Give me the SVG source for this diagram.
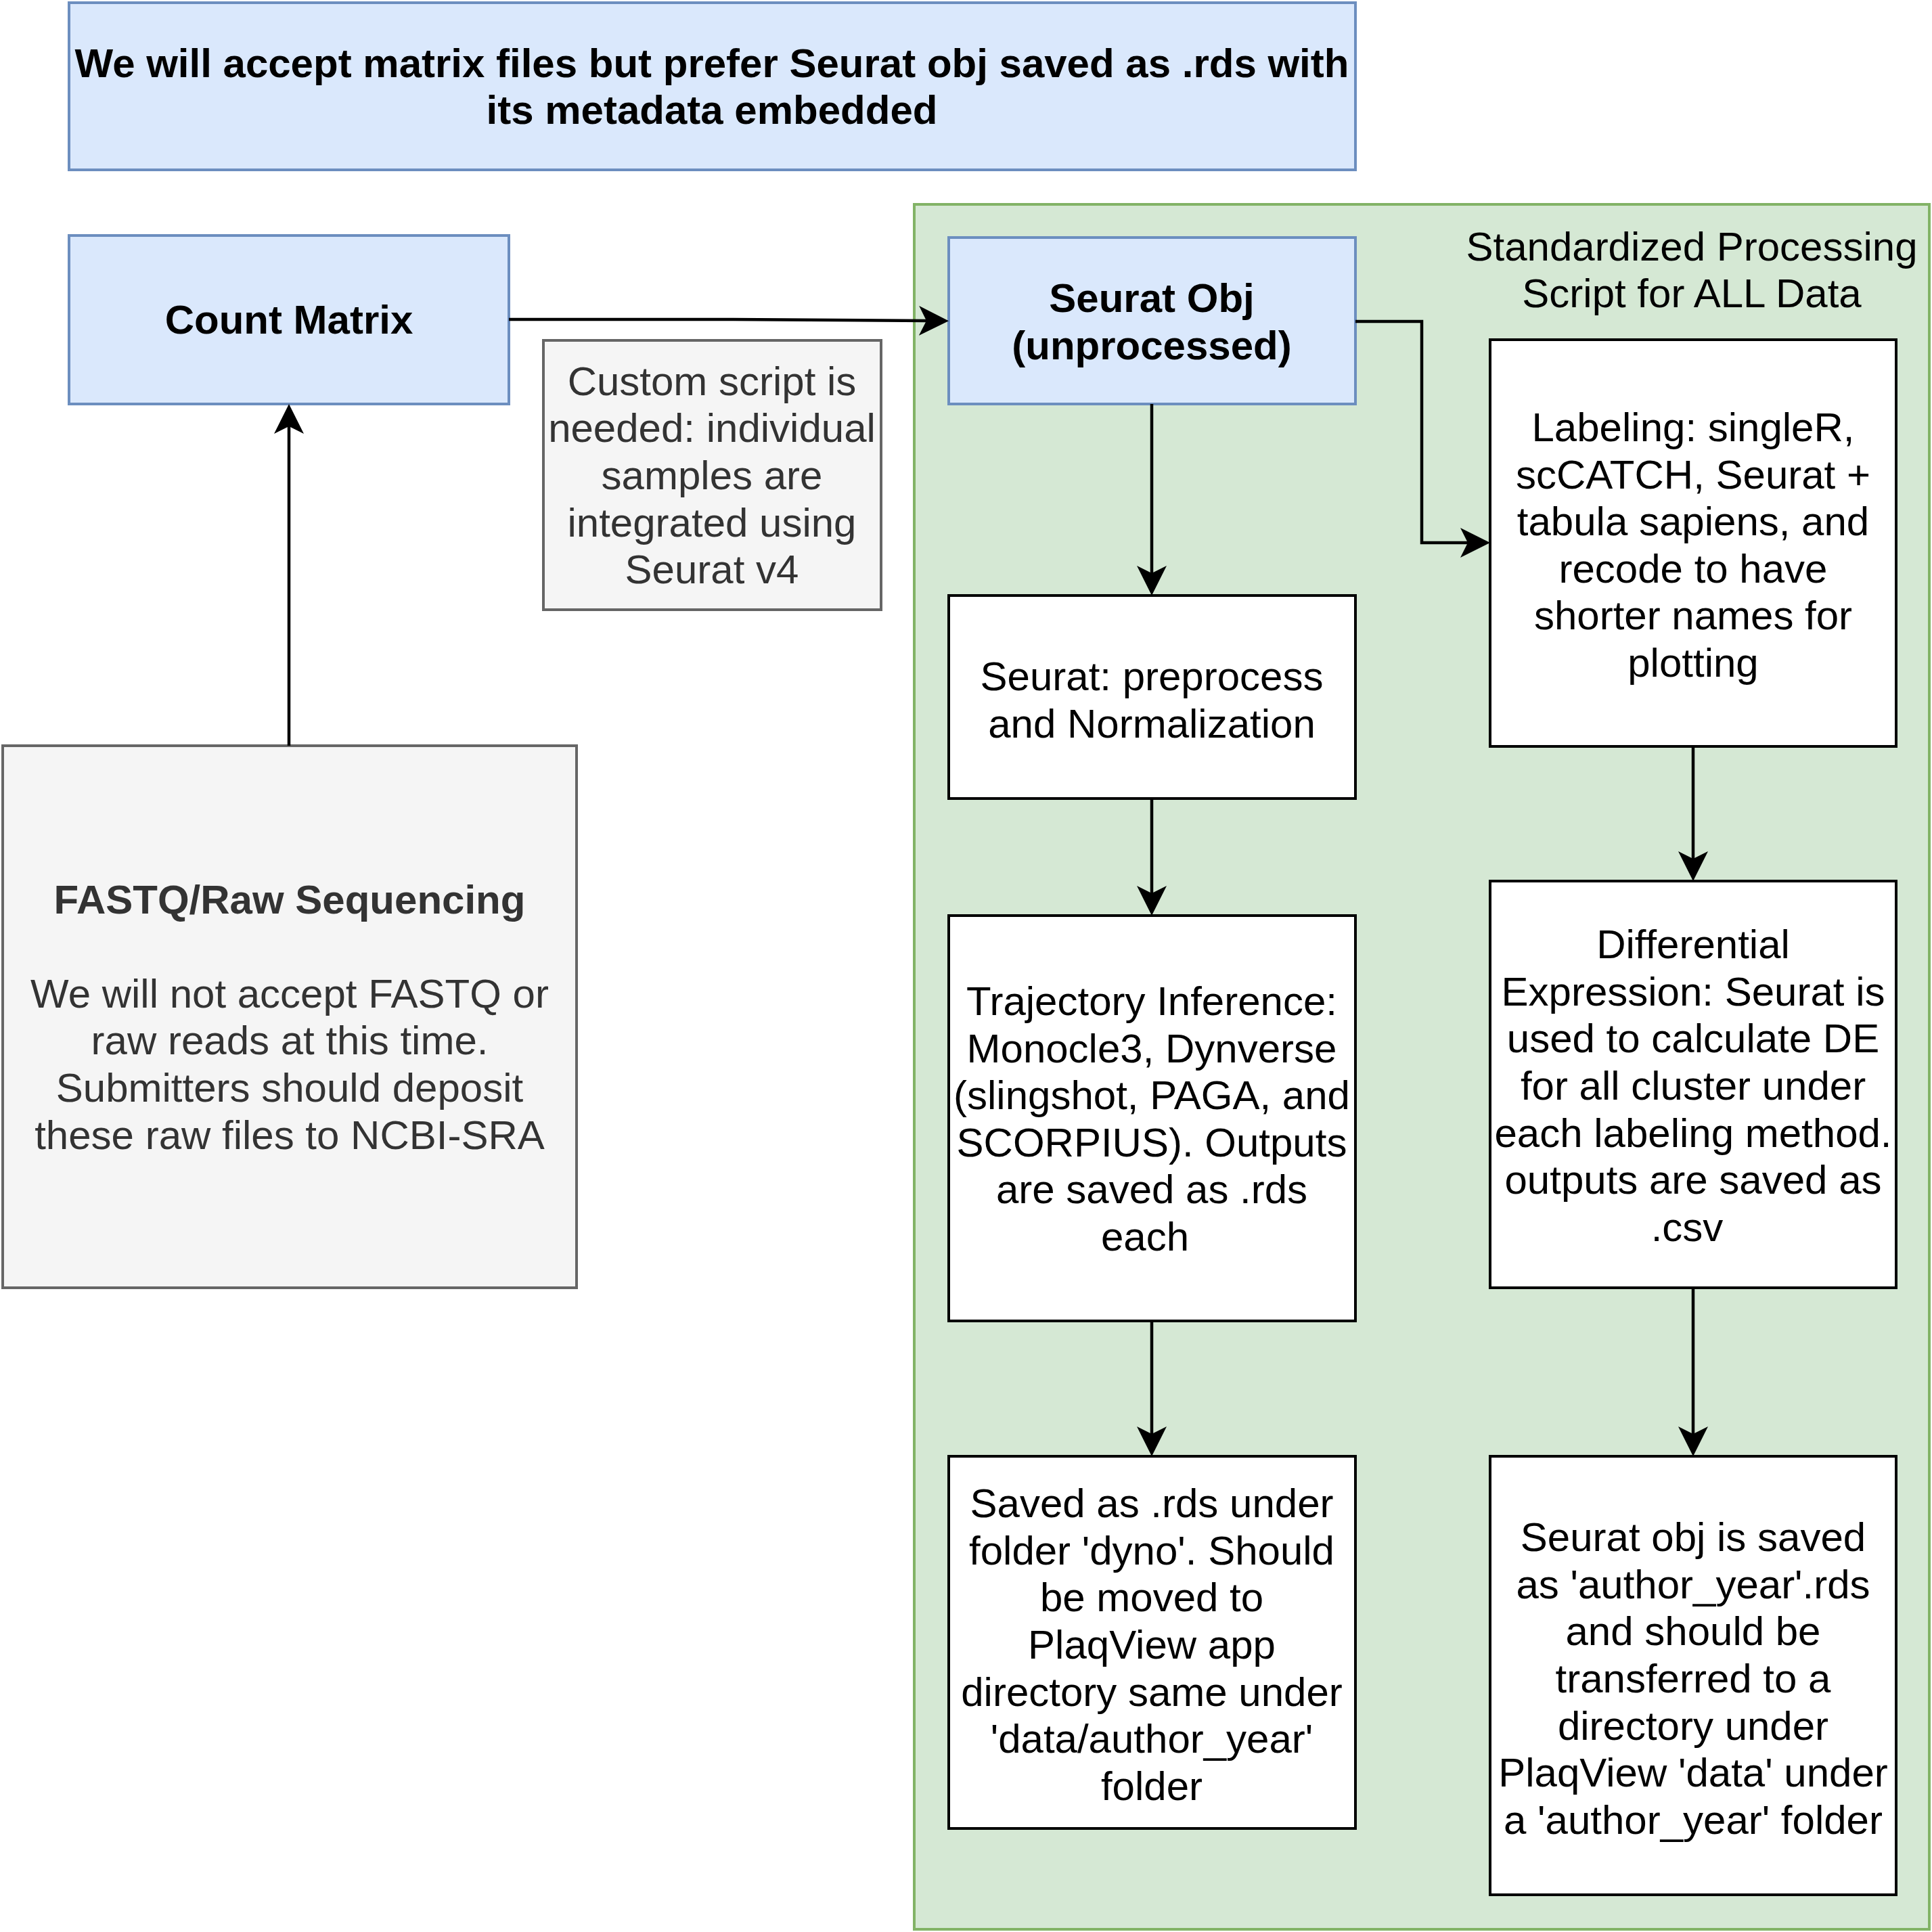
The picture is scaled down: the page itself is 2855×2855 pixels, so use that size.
<svg xmlns="http://www.w3.org/2000/svg" width="2855" height="2855" viewBox="0 0 2855 2855">
<style>
text{font-family:"Liberation Sans",Arial,Helvetica,sans-serif;font-size:60px;text-anchor:middle;fill:#000}
.b{font-weight:bold}
.g{fill:#333333}
.blue{fill:#dae8fc;stroke:#6c8ebf;stroke-width:4}
.gray{fill:#f5f5f5;stroke:#666666;stroke-width:4}
.white{fill:#ffffff;stroke:#000000;stroke-width:4}
.green{fill:#d5e8d4;stroke:#82b366;stroke-width:4}
.edge{fill:none;stroke:#000;stroke-width:4.5;marker-end:url(#arr)}
</style>
<defs>
<marker id="arr" markerUnits="userSpaceOnUse" markerWidth="44" markerHeight="44" viewBox="0 0 44 44" refX="11" refY="22" orient="auto">
<path d="M44,22 L0,0 L11,22 L0,44 Z" fill="#000"/>
</marker>
</defs>
<rect width="2855" height="2855" fill="#ffffff"/>

<g id="container">
<rect class="green" x="1351" y="302" width="1500" height="2549"/>
<text x="2500" y="385">Standardized Processing</text>
<text x="2500" y="454">Script for ALL Data</text>
</g>

<g id="title">
<rect class="blue" x="102" y="4" width="1901" height="247"/>
<text class="b" x="1052" y="114">We will accept matrix files but prefer Seurat obj saved as .rds with</text>
<text class="b" x="1052" y="183">its metadata embedded</text>
</g>

<g id="count-matrix">
<rect class="blue" x="102" y="348" width="650" height="249"/>
<text class="b" x="427" y="493">Count Matrix</text>
</g>

<g id="custom-script">
<rect class="gray" x="803" y="503" width="499" height="398"/>
<text class="g" x="1052" y="584">Custom script is</text>
<text class="g" x="1052" y="653">needed: individual</text>
<text class="g" x="1052" y="723">samples are</text>
<text class="g" x="1052" y="793">integrated using</text>
<text class="g" x="1052" y="862">Seurat v4</text>
</g>

<g id="fastq">
<rect class="gray" x="4" y="1102" width="848" height="801"/>
<text class="g b" x="428" y="1350">FASTQ/Raw Sequencing</text>
<text class="g" x="428" y="1489">We will not accept FASTQ or</text>
<text class="g" x="428" y="1558">raw reads at this time.</text>
<text class="g" x="428" y="1628">Submitters should deposit</text>
<text class="g" x="428" y="1698">these raw files to NCBI-SRA</text>
</g>

<g id="seurat-obj">
<rect class="blue" x="1402" y="351" width="601" height="246"/>
<text class="b" x="1702" y="461">Seurat Obj</text>
<text class="b" x="1702" y="531">(unprocessed)</text>
</g>

<g id="labeling">
<rect class="white" x="2202" y="502" width="600" height="601"/>
<text x="2502" y="652">Labeling: singleR,</text>
<text x="2502" y="722">scCATCH, Seurat +</text>
<text x="2502" y="791">tabula sapiens, and</text>
<text x="2502" y="861">recode to have</text>
<text x="2502" y="930">shorter names for</text>
<text x="2502" y="1000">plotting</text>
</g>

<g id="preprocess">
<rect class="white" x="1402" y="880" width="601" height="300"/>
<text x="1702" y="1020">Seurat: preprocess</text>
<text x="1702" y="1090">and Normalization</text>
</g>

<g id="trajectory">
<rect class="white" x="1402" y="1353" width="601" height="599"/>
<text x="1702" y="1500">Trajectory Inference:</text>
<text x="1702" y="1570">Monocle3, Dynverse</text>
<text x="1702" y="1639">(slingshot, PAGA, and</text>
<text x="1702" y="1709">SCORPIUS). Outputs</text>
<text x="1702" y="1778">are saved as .rds</text>
<text x="1692" y="1848">each</text>
</g>

<g id="differential">
<rect class="white" x="2202" y="1302" width="600" height="601"/>
<text x="2502" y="1416">Differential</text>
<text x="2502" y="1486">Expression: Seurat is</text>
<text x="2502" y="1555">used to calculate DE</text>
<text x="2502" y="1625">for all cluster under</text>
<text x="2502" y="1695">each labeling method.</text>
<text x="2502" y="1764">outputs are saved as</text>
<text x="2493" y="1834">.csv</text>
</g>

<g id="saved-dyno">
<rect class="white" x="1402" y="2152" width="601" height="550"/>
<text x="1702" y="2242">Saved as .rds under</text>
<text x="1702" y="2312">folder 'dyno'. Should</text>
<text x="1702" y="2381">be moved to</text>
<text x="1702" y="2451">PlaqView app</text>
<text x="1702" y="2521">directory same under</text>
<text x="1702" y="2590">'data/author_year'</text>
<text x="1702" y="2660">folder</text>
</g>

<g id="seurat-saved">
<rect class="white" x="2202" y="2152" width="600" height="648"/>
<text x="2502" y="2292">Seurat obj is saved</text>
<text x="2502" y="2362">as 'author_year'.rds</text>
<text x="2502" y="2431">and should be</text>
<text x="2502" y="2501">transferred to a</text>
<text x="2502" y="2571">directory under</text>
<text x="2502" y="2640">PlaqView 'data' under</text>
<text x="2502" y="2710">a 'author_year' folder</text>
</g>

<g id="connectors">
<path class="edge" d="M427,1102 L427,630"/>
<path class="edge" d="M752,472 L1083,472 L1369,474"/>
<path class="edge" d="M1702,597 L1702,847"/>
<path class="edge" d="M2003,475 L2101,475 L2101,802 L2169,802"/>
<path class="edge" d="M1702,1180 L1702,1320"/>
<path class="edge" d="M1702,1952 L1702,2119"/>
<path class="edge" d="M2502,1103 L2502,1269"/>
<path class="edge" d="M2502,1903 L2502,2119"/>
</g>
</svg>
